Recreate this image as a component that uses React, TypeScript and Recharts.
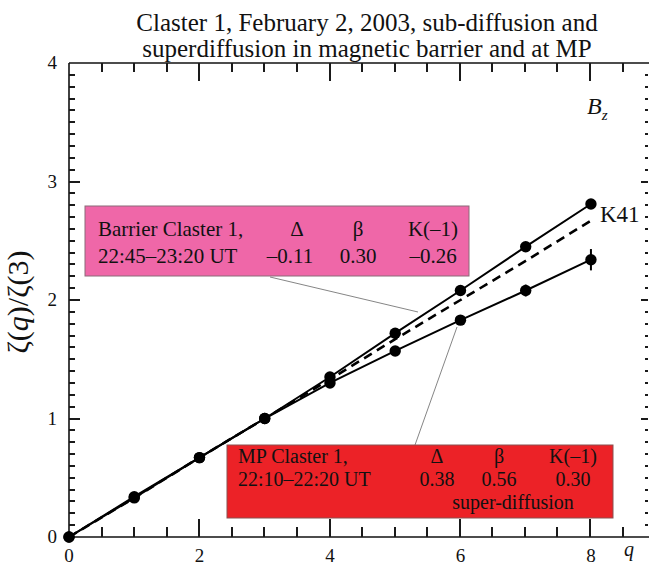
import { ErrorBar, Line, LineChart, XAxis, YAxis } from 'recharts'

// structure-function exponents ζ(q)/ζ(3)
const Q = [0, 1, 2, 3, 4, 5, 6, 7, 8]
const BARRIER = [0, 0.34, 0.67, 1.0, 1.35, 1.72, 2.08, 2.45, 2.81]
const MP = [0, 0.33, 0.67, 1.0, 1.3, 1.57, 1.83, 2.08, 2.34]
const MP_ERR = [0, 0, 0, 0, 0.02, 0.02, 0.03, 0.05, 0.09]
const K41 = [0, 0.33, 0.67, 1.0, 1.33, 1.67, 2.0, 2.33, 2.67]

const Q_TICKS = [0, 0.5, 1, 1.5, 2, 2.5, 3, 3.5, 4, 4.5, 5, 5.5, 6, 6.5, 7, 7.5, 8, 8.5]
const Q_LABELS = [0, 2, 4, 6, 8]
const Y_TICKS = Array.from({ length: 41 }, (_, i) => i / 10)

const data = Q.map((q, i) => ({
  q,
  barrier: BARRIER[i],
  mp: MP[i],
  mpErr: MP_ERR[i],
  k41: K41[i],
}))

const W = 650
const H = 566
const MARGIN = { top: 62, right: 1, bottom: 28, left: 68 }
const X_MAX = 8.89
const Y_MAX = 4
const FONT = '"Liberation Serif", "DejaVu Serif", serif'
const INK = '#111'

// plot box (margins plus the 1px axis bands)
const BOX = {
  left: MARGIN.left + 1,
  right: W - MARGIN.right - 1,
  top: MARGIN.top + 1,
  bottom: H - MARGIN.bottom - 1,
}
const sx = (q: number) => Math.round(BOX.left + (q / X_MAX) * (BOX.right - BOX.left))
const sy = (v: number) => Math.round(BOX.bottom - (v / Y_MAX) * (BOX.bottom - BOX.top))

const isLabelQ = (v: number) => Q_LABELS.includes(v)
const isLabelY = (v: number) => Math.abs(v - Math.round(v)) < 1e-6

function BottomLabel({ x, y, payload }: any) {
  if (!isLabelQ(payload.value)) return null
  return (
    <text x={x} y={y + 25} textAnchor="middle" fontFamily={FONT} fontSize={19} fill={INK}>
      {payload.value}
    </text>
  )
}

function LeftLabel({ x, y, payload }: any) {
  if (!isLabelY(payload.value)) return null
  return (
    <text x={x - 12} y={y + 6} textAnchor="end" fontFamily={FONT} fontSize={19} fill={INK}>
      {Math.round(payload.value)}
    </text>
  )
}

function Dot({ cx, cy }: any) {
  if (cx == null || cy == null) return null
  return <circle cx={cx} cy={cy} r={5.7} fill="#000" />
}

// tick marks as thin filled rects, pointing into the plot
function TickMarks() {
  const items: any[] = []
  Q_TICKS.filter((q) => q > 0).forEach((q) => {
    const major = isLabelQ(q)
    const x = sx(q)
    const lb = major ? 18 : 10
    const lt = major ? 18 : 9
    items.push(
      <rect key={`b${q}`} x={x - 1} y={BOX.bottom - lb} width={2} height={lb} fill="#1a1a1a" />,
      <rect key={`t${q}`} x={x - 1} y={BOX.top} width={2} height={lt} fill="#1a1a1a" />
    )
  })
  Y_TICKS.filter((v) => v > 0 && v < Y_MAX).forEach((v) => {
    const major = isLabelY(v)
    const y = sy(v)
    const ll = major ? 11 : 6
    const lr = major ? 7 : 3
    items.push(
      <rect key={`l${v}`} x={BOX.left} y={y - 1} width={ll} height={2} fill="#1a1a1a" />,
      <rect key={`r${v}`} x={BOX.right - lr} y={y - 1} width={lr} height={2} fill="#1a1a1a" />
    )
  })
  return <g>{items}</g>
}

function Overlay() {
  const txt = { fontFamily: FONT, fontSize: 21, fill: INK }
  const mp = { fontFamily: FONT, fontSize: 20, fill: INK }
  return (
    <svg width={W} height={H} style={{ position: 'absolute', left: 0, top: 0, pointerEvents: 'none' }}>
      <TickMarks />

      <text x={367} y={31} textAnchor="middle" fontFamily={FONT} fontSize={25} fill={INK}>
        Claster 1, February 2, 2003, sub-diffusion and
      </text>
      <text x={367} y={57} textAnchor="middle" fontFamily={FONT} fontSize={25} fill={INK}>
        superdiffusion in magnetic barrier and at MP
      </text>

      <text x={28} y={302} textAnchor="middle" transform="rotate(-90 28 302)" fontFamily={FONT} fontSize={30} fill={INK}>
        ζ(<tspan fontStyle="italic">q</tspan>)/ζ(3)
      </text>
      <text x={629} y={556} textAnchor="middle" fontFamily={FONT} fontSize={20} fontStyle="italic" fill={INK}>
        q
      </text>

      <text x={587} y={114} fontFamily={FONT} fontSize={24} fontStyle="italic" fill={INK}>
        B
        <tspan fontSize={15} dy={6}>z</tspan>
      </text>
      <text x={600} y={222} fontFamily={FONT} fontSize={23} fill={INK}>
        K41
      </text>

      {/* leader lines */}
      <line x1={270} y1={277} x2={418} y2={312} stroke="#777" strokeWidth={0.9} />
      <line x1={457} y1={327} x2={415} y2={445} stroke="#777" strokeWidth={0.9} />

      {/* barrier box */}
      <rect x={85} y={206} width={384} height={70} fill="#EF67A8" stroke="#8a6b78" strokeWidth={1} />
      <text x={98} y={236} {...txt}>Barrier Claster 1,</text>
      <text x={98} y={263} {...txt}>22:45–23:20 UT</text>
      <text x={297} y={236} textAnchor="middle" {...txt}>Δ</text>
      <text x={358} y={236} textAnchor="middle" {...txt}>β</text>
      <text x={433} y={236} textAnchor="middle" {...txt}>K(–1)</text>
      <text x={290} y={263} textAnchor="middle" {...txt}>–0.11</text>
      <text x={358} y={263} textAnchor="middle" {...txt}>0.30</text>
      <text x={433} y={263} textAnchor="middle" {...txt}>–0.26</text>

      {/* MP box */}
      <rect x={227} y={445} width={386} height={73} fill="#EC2227" stroke="#8a5050" strokeWidth={1} />
      <text x={238} y={463} {...mp}>MP Claster 1,</text>
      <text x={238} y={486} {...mp}>22:10–22:20 UT</text>
      <text x={437} y={463} textAnchor="middle" {...mp}>Δ</text>
      <text x={499} y={463} textAnchor="middle" {...mp}>β</text>
      <text x={573} y={463} textAnchor="middle" {...mp}>K(–1)</text>
      <text x={437} y={486} textAnchor="middle" {...mp}>0.38</text>
      <text x={499} y={486} textAnchor="middle" {...mp}>0.56</text>
      <text x={573} y={486} textAnchor="middle" {...mp}>0.30</text>
      <text x={513} y={509} textAnchor="middle" {...mp}>super-diffusion</text>
    </svg>
  )
}

export default function App() {
  return (
    <div style={{ position: 'absolute', left: 0, top: 0, width: W, height: H, background: '#fff' }}>
      <LineChart width={W} height={H} data={data} margin={MARGIN}>
        <XAxis
          dataKey="q"
          type="number"
          domain={[0, X_MAX]}
          ticks={Q_TICKS}
          interval={0}
          height={1}
          tickSize={0}
          tickMargin={0}
          tickLine={false}
          tick={<BottomLabel />}
          axisLine={{ stroke: INK, strokeWidth: 1.6 }}
        />
        <XAxis
          xAxisId="top"
          orientation="top"
          dataKey="q"
          type="number"
          domain={[0, X_MAX]}
          height={1}
          tick={false}
          tickLine={false}
          axisLine={{ stroke: INK, strokeWidth: 1.6 }}
        />
        <YAxis
          type="number"
          domain={[0, Y_MAX]}
          ticks={Y_TICKS}
          interval={0}
          width={1}
          tickSize={0}
          tickMargin={0}
          tickLine={false}
          tick={<LeftLabel />}
          axisLine={{ stroke: INK, strokeWidth: 1.6 }}
        />
        <Line
          dataKey="k41"
          stroke="#000"
          strokeWidth={2.6}
          strokeDasharray="9 6"
          dot={false}
          isAnimationActive={false}
        />
        <Line dataKey="barrier" stroke="#000" strokeWidth={2} dot={<Dot />} isAnimationActive={false} />
        <Line dataKey="mp" stroke="#000" strokeWidth={2} dot={<Dot />} isAnimationActive={false}>
          <ErrorBar dataKey="mpErr" direction="y" width={0} stroke="#000" strokeWidth={2} />
        </Line>
      </LineChart>
      <Overlay />
    </div>
  )
}
